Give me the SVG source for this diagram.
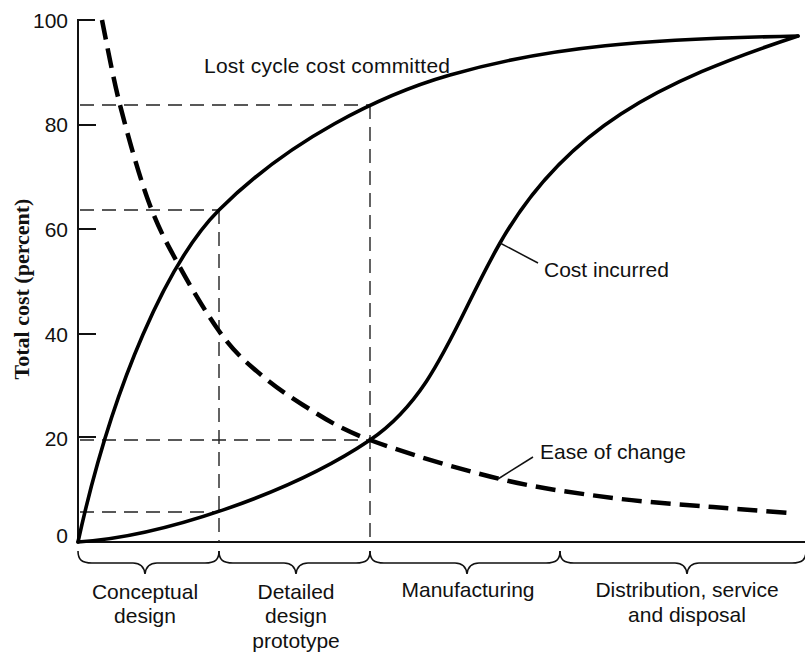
<svg xmlns="http://www.w3.org/2000/svg" width="805" height="655" viewBox="0 0 805 655">
<style>
.lbl{font-family:"Liberation Sans",Arial,sans-serif;font-size:21px;fill:#111}
.tick{font-family:"Liberation Sans",Arial,sans-serif;font-size:21px;fill:#111;text-anchor:end}
.mid{text-anchor:middle}
.axis{stroke:#111;stroke-width:2;fill:none}
.guide{stroke:#222;stroke-width:1.4;fill:none;stroke-dasharray:14 8}
.curve{stroke:#000;stroke-width:3.6;fill:none;stroke-linecap:round}
.ease{stroke:#000;stroke-width:4.5;fill:none;stroke-dasharray:20 9}
.brace{stroke:#111;stroke-width:1.6;fill:none}
.leader{stroke:#111;stroke-width:1.5}
</style>
<rect width="805" height="655" fill="#fff"/>
<g id="axes">
<path class="axis" d="M95,20 H78 V542 H805"/>
<path class="axis" d="M78,125 H96 M78,229 H96 M78,334 H96 M78,437 H96"/>
<text class="tick" x="68" y="28">100</text>
<text class="tick" x="68" y="132">80</text>
<text class="tick" x="68" y="237">60</text>
<text class="tick" x="68" y="342">40</text>
<text class="tick" x="68" y="446">20</text>
<text class="tick" x="68" y="543">0</text>
<text transform="translate(29,289) rotate(-90)" text-anchor="middle" font-family="'Liberation Serif','Times New Roman',serif" font-weight="bold" font-size="22" fill="#111">Total cost (percent)</text>
</g>
<g id="guides">
<path class="guide" d="M80,105 H370 M80,210 H219 M80,440 H370 M80,512 H219"/>
<path class="guide" d="M370,105 V542 M219,210 V542"/>
</g>
<g id="connectors">
<path id="committed" class="curve" d="M78,542 C113,382 169,260 219,210 C289,140 380,95 450,75 C550,46 648,39 798,36"/>
<path id="incurred" class="curve" d="M78,542 C160,537 290,494 370,440 C435,396 455,322 500,243 C565,129 658,82 798,36"/>
<path id="ease" class="ease" d="M102,20 C105,34.2 112.3,75 120,105 C127.7,135 138.5,173.8 148,200 C157.5,226.2 165.2,240.2 177,262 C188.8,283.8 206.3,313.3 219,331 C231.7,348.7 239,355.7 253,368 C267,380.3 283.5,393 303,405 C322.5,417 337.2,427.7 370,440 C402.8,452.3 459.5,469.3 500,479 C540.5,488.7 577.5,493.3 613,498 C648.5,502.7 683.5,504.5 713,507 C742.5,509.5 777.2,512 790,513"/>
<line class="leader" x1="500" y1="243" x2="538" y2="263"/>
<line class="leader" x1="498" y1="479" x2="533" y2="457"/>
</g>
<g id="labels">
<text class="lbl" x="204" y="73" textLength="246">Lost cycle cost committed</text>
<text class="lbl" x="544" y="277">Cost incurred</text>
<text class="lbl" x="540" y="459">Ease of change</text>
</g>
<g id="phases">
<path class="brace" d="M78,551 C78,560 82,563 92,563 L133,563 C140,563 144,566 145,574 C146,566 150,563 157,563 L205,563 C215,563 219,560 219,551"/>
<path class="brace" d="M219,551 C219,560 223,563 233,563 L284,563 C291,563 295,566 296,574 C297,566 301,563 308,563 L356,563 C366,563 370,560 370,551"/>
<path class="brace" d="M370,551 C370,560 374,563 384,563 L455,563 C462,563 466,566 467,574 C468,566 472,563 479,563 L546,563 C556,563 560,560 560,551"/>
<path class="brace" d="M560,551 C560,560 564,563 574,563 L675,563 C682,563 686,566 687,574 C688,566 692,563 699,563 L792,563 C802,563 806,560 806,551"/>
<text class="lbl mid" x="145" y="599">Conceptual</text>
<text class="lbl mid" x="145" y="623">design</text>
<text class="lbl mid" x="296" y="599">Detailed</text>
<text class="lbl mid" x="296" y="623">design</text>
<text class="lbl mid" x="296" y="648">prototype</text>
<text class="lbl mid" x="468" y="597">Manufacturing</text>
<text class="lbl mid" x="687" y="597">Distribution, service</text>
<text class="lbl mid" x="687" y="622">and disposal</text>
</g>
</svg>
